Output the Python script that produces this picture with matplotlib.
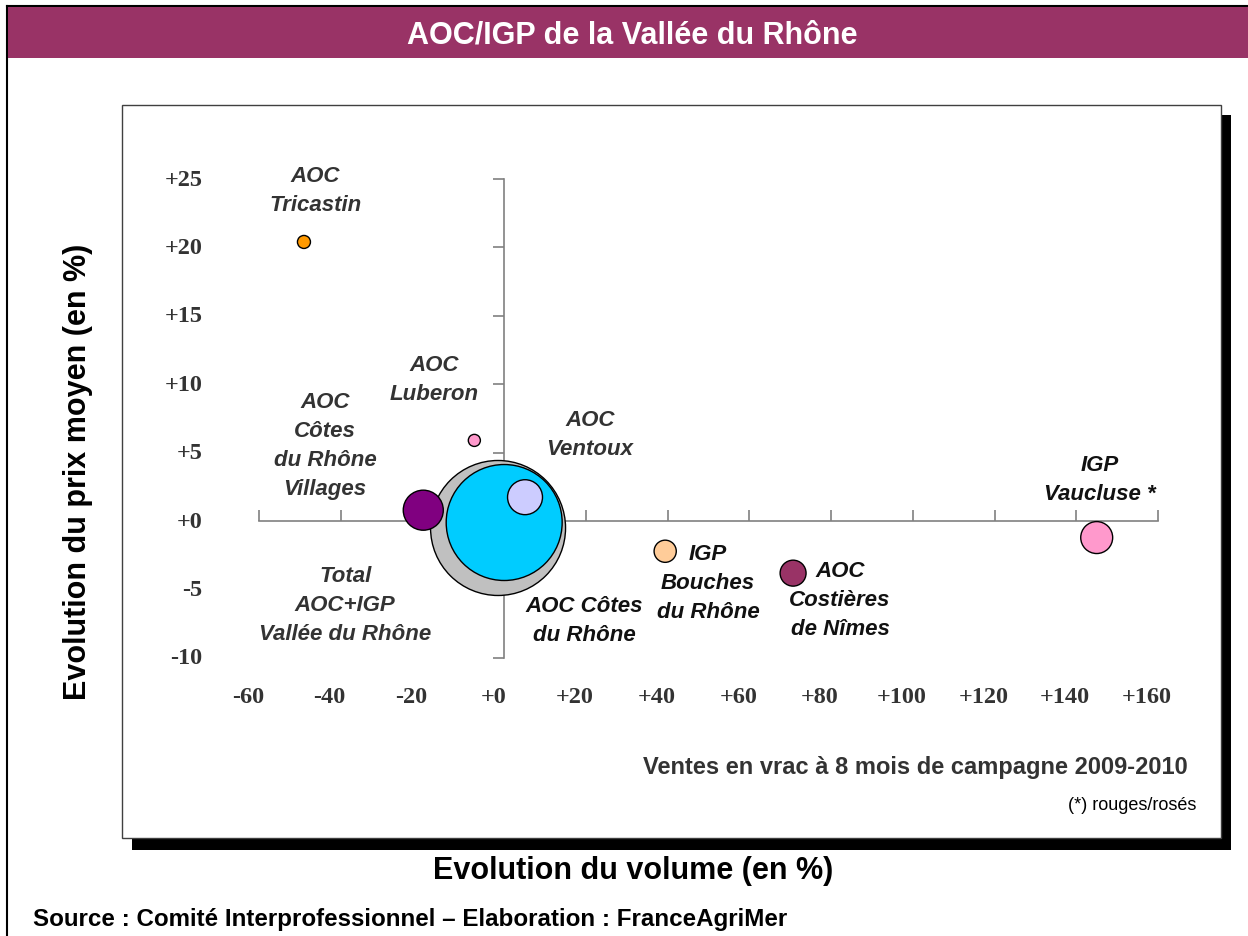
import numpy as np
import matplotlib
matplotlib.use("Agg")
import matplotlib.pyplot as plt
from matplotlib.patches import Rectangle
from matplotlib.transforms import offset_copy

W, H, DPI = 1248, 937, 100

# données
noms = ["Total\nAOC+IGP\nVallée du Rhône", "AOC Côtes\ndu Rhône", "AOC\nCôtes\ndu Rhône\nVillages",
        "AOC\nVentoux", "AOC\nTricastin", "AOC\nLuberon", "IGP\nBouches\ndu Rhône",
        "AOC\nCostières\nde Nîmes", "IGP\nVaucluse *"]
evol_volume = [-1.5, 0.0, -19.8, 5.1, -49.0, -7.3, 39.4, 70.7, 145.0]
evol_prix = [-0.5, -0.1, 0.8, 1.75, 20.4, 5.9, -2.2, -3.8, -1.2]
volume_rel = [100.0, 73.8, 8.8, 6.7, 0.93, 0.8, 2.7, 3.7, 5.6]
couleurs = ["#C0C0C0", "#00CCFF", "#800080", "#CCCCFF", "#FF9900", "#FF99CC",
            "#FFCC99", "#993366", "#FF99CC"]
x_ticks = [-60, -40, -20, 0, 20, 40, 60, 80, 100, 120, 140, 160]
y_ticks = [-10, -5, 0, 5, 10, 15, 20, 25]

# positions des étiquettes (données) et couleur du texte
lab_pos = [(-38.9, -6.1), (19.6, -7.2), (-43.8, 5.6), (21.0, 6.4), (-46.2, 24.2),
           (-17.1, 10.4), (49.9, -4.5), (82.2, -5.7), (145.7, 3.1)]
lab_col = ["#333333", "#111111", "#333333", "#333333", "#333333", "#333333",
           "#111111", "#111111", "#111111"]

SANS = "Liberation Sans"
SERIF = "Liberation Serif"
TXT = "#333333"
MAROON = "#993366"

fig = plt.figure(figsize=(W / DPI, H / DPI), dpi=DPI, facecolor="white")


def fx(px):
    return px / W


def fy(py):
    return 1 - py / H


# cadre extérieur et bandeau titre
fig.add_artist(plt.Line2D([fx(7), fx(7)], [fy(7), fy(937)], color="black", lw=1.5, zorder=-3))
fig.add_artist(plt.Line2D([fx(7), fx(1248)], [fy(7), fy(7)], color="black", lw=1.5, zorder=-3))
fig.add_artist(Rectangle((fx(8), fy(59)), fx(1240), 51 / H, facecolor=MAROON, edgecolor="none", zorder=-3))
fig.text(fx(632), fy(35), "AOC/IGP de la Vallée du Rhône", ha="center", va="center",
         color="white", fontsize=22, fontweight="bold", family=SANS)

# boîte du graphique avec ombre
fig.add_artist(Rectangle((fx(132), fy(851)), 1099 / W, 735 / H, facecolor="black",
                         edgecolor="none", zorder=-3))
fig.add_artist(Rectangle((fx(122), fy(839)), 1099 / W, 733 / H, facecolor="white",
                         edgecolor="#404040", lw=1, zorder=-2))

ax = fig.add_axes([fx(259), fy(659), (1158 - 259) / W, (659 - 180) / H])
ax.set_zorder(5)
ax.set_facecolor("none")
ax.set_xlim(-60, 160)
ax.set_ylim(-10, 25)
for s in ("top", "right"):
    ax.spines[s].set_visible(False)
ax.spines["left"].set_position(("data", 0))
ax.spines["bottom"].set_position(("data", 0))
for s in ("left", "bottom"):
    ax.spines[s].set_color("#808080")
    ax.spines[s].set_linewidth(1.2)
ax.set_xticks(x_ticks)
ax.set_yticks(y_ticks)
ax.tick_params(axis="x", direction="in", length=8, color="#808080", width=1.2, labelbottom=False)
ax.tick_params(axis="y", direction="out", length=8, color="#808080", width=1.2, labelleft=False)

xt = offset_copy(ax.get_xaxis_transform(), fig=fig, x=-11, y=0, units="dots")
for v in x_ticks:
    ax.text(v, -0.08, f"{v:+d}" if v != 0 else "+0", transform=xt, ha="center", va="center",
            fontsize=17.5, fontweight="bold", family=SERIF, color=TXT)
for v in y_ticks:
    ax.text(-0.063, v, f"{v:+d}" if v != 0 else "+0", transform=ax.get_yaxis_transform(),
            ha="right", va="center", fontsize=17.5, fontweight="bold", family=SERIF, color=TXT)

# bulles
rayon_px = 67.5 * np.sqrt(np.array(volume_rel) / 100)
tailles = (2 * rayon_px * 72 / DPI) ** 2
ax.scatter(evol_volume, evol_prix, s=tailles, c=couleurs, edgecolors="black", linewidths=1,
           zorder=3, clip_on=False)

for nom, (lx, ly), col in zip(noms, lab_pos, lab_col):
    ax.text(lx, ly, nom, ha="center", va="center", fontsize=16, fontweight="bold",
            style="italic", family=SANS, color=col, linespacing=1.5, zorder=4)

# textes
fig.text(fx(78), fy(472), "Evolution du prix moyen (en %)", rotation=90, ha="center", va="center",
         fontsize=22, fontweight="bold", family=SANS, color="black")
fig.text(fx(633), fy(871), "Evolution du volume (en %)", ha="center", va="center",
         fontsize=22, fontweight="bold", family=SANS, color="black")
fig.text(fx(1188), fy(768), "Ventes en vrac à 8 mois de campagne 2009-2010", ha="right", va="center",
         fontsize=17, fontweight="bold", family=SANS, color=TXT)
fig.text(fx(1196), fy(806), "(*) rouges/rosés", ha="right", va="center",
         fontsize=13, family=SANS, color="black")
fig.text(fx(33), fy(920), "Source : Comité Interprofessionnel – Elaboration : FranceAgriMer",
         ha="left", va="center", fontsize=17.4, fontweight="bold", family=SANS, color="black")

fig.savefig("out.png", dpi=DPI)
